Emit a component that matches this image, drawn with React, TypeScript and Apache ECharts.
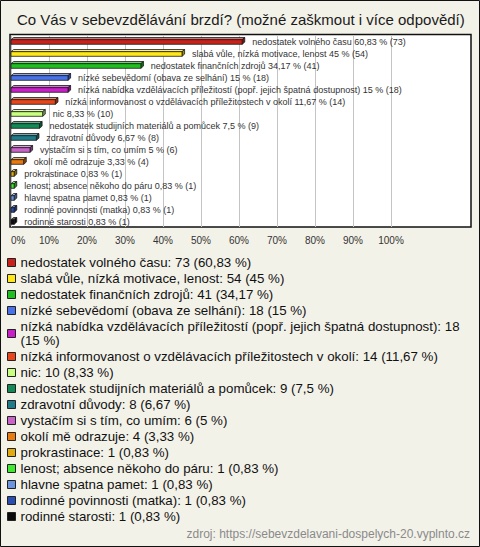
import React, { useEffect, useRef } from "react";
import * as echarts from "echarts";

const titleText = "Co Vás v sebevzdělávání brzdí? (možné zaškmout i více odpovědí)";
const sourceText = "zdroj: https://sebevzdelavani-dospelych-20.vyplnto.cz";

const categories = [
  "nedostatek volného času",
  "slabá vůle, nízká motivace, lenost",
  "nedostatek finančních zdrojů",
  "nízké sebevědomí (obava ze selhání)",
  "nízká nabídka vzdělávacích příležitostí (popř. jejich špatná dostupnost)",
  "nízká informovanost o vzdělávacích příležitostech v okolí",
  "nic",
  "nedostatek studijních materiálů a pomůcek",
  "zdravotní důvody",
  "vystačím si s tím, co umím",
  "okolí mě odrazuje",
  "prokrastinace",
  "lenost; absence někoho do páru",
  "hlavne spatna pamet",
  "rodinné povinnosti (matka)",
  "rodinné starosti",
];
const counts = [73, 54, 41, 18, 18, 14, 10, 9, 8, 6, 4, 1, 1, 1, 1, 1];
const percents = [60.83, 45, 34.17, 15, 15, 11.67, 8.33, 7.5, 6.67, 5, 3.33, 0.83, 0.83, 0.83, 0.83, 0.83];
const colors = [
  "#c8231b", "#ffe81a", "#1fbf1f", "#4a72e8", "#c81fc8", "#e8461a", "#c8ff80", "#118a55",
  "#1f7a8a", "#c864c8", "#e87a10", "#e0aa10", "#40e830", "#6d95dd", "#2a4db0", "#0a0a0a",
];
const axisMin = 0;
const axisMax = 100;
const axisInterval = 10;

const FONT = "Liberation Sans, Arial, sans-serif";
const LEGEND_FONT_SIZE = 13.3;
const fmtPct = (v: number) => String(v).replace(".", ",");

function shade(hex: string, f: number): string {
  const n = parseInt(hex.slice(1), 16);
  let r = (n >> 16) & 255, g = (n >> 8) & 255, b = n & 255;
  if (f >= 0) {
    r = Math.round(r + (255 - r) * f);
    g = Math.round(g + (255 - g) * f);
    b = Math.round(b + (255 - b) * f);
  } else {
    r = Math.round(r * (1 + f));
    g = Math.round(g * (1 + f));
    b = Math.round(b * (1 + f));
  }
  return "rgb(" + r + "," + g + "," + b + ")";
}

function wrapText(text: string, maxW: number, font: string): string {
  const ctx = document.createElement("canvas").getContext("2d");
  if (!ctx) return text;
  ctx.font = font;
  const words = text.split(" ");
  const lines: string[] = [];
  let cur = "";
  for (const w of words) {
    const next = cur ? cur + " " + w : w;
    if (cur && ctx.measureText(next).width > maxW) {
      lines.push(cur);
      cur = w;
    } else {
      cur = next;
    }
  }
  if (cur) lines.push(cur);
  return lines.join("\n");
}

export default function App() {
  const ref = useRef<HTMLDivElement>(null);
  useEffect(() => {
    if (!ref.current) return;
    const chart = echarts.init(ref.current, undefined, { renderer: "svg" });
    const series = categories.map((name, i) => ({
      type: "custom" as const,
      name,
      itemStyle: { color: colors[i] },
      encode: { x: 0, y: 1 },
      data: [[percents[i], i]],
      renderItem: (params: any, api: any) => {
        const v = api.value(0);
        const idx = api.value(1);
        const p0 = api.coord([0, idx]);
        const p1 = api.coord([v, idx]);
        const x0 = p0[0];
        const x1 = p1[0];
        const yc = p0[1];
        const yT = yc - 1.3;
        const yB = yc + 3.3;
        const dx = 2.6;
        const dy = 2.2;
        const c = colors[i];
        const stroke = { stroke: "#1a1a1a", lineWidth: 0.8 };
        return {
          type: "group",
          children: [
            {
              type: "polygon",
              shape: { points: [[x0, yT], [x0 + dx, yT - dy], [x1 + dx, yT - dy], [x1, yT]] },
              style: { fill: shade(c, 0.35), ...stroke },
            },
            {
              type: "polygon",
              shape: { points: [[x1, yT], [x1 + dx, yT - dy], [x1 + dx, yB - dy], [x1, yB]] },
              style: { fill: shade(c, -0.4), ...stroke },
            },
            {
              type: "rect",
              shape: { x: x0, y: yT, width: x1 - x0, height: yB - yT },
              style: { fill: c, ...stroke },
            },
            {
              type: "text",
              x: x1 + 10,
              y: yc + 0.5,
              style: {
                text: name + " " + fmtPct(percents[i]) + " % (" + counts[i] + ")",
                fill: "#333",
                fontSize: 9,
                fontFamily: FONT,
                verticalAlign: "middle",
                align: "left",
              },
            },
          ],
        };
      },
    }));

    chart.setOption({
      animation: false,
      backgroundColor: "#f3f2e9",
      graphic: [
        {
          type: "rect",
          z: -100,
          shape: { x: 0.5, y: 0.5, width: 479, height: 546 },
          style: { fill: "#f3f2e9", stroke: "#111", lineWidth: 1 },
          silent: true,
        },
        {
          type: "rect",
          z: -90,
          shape: { x: 10, y: 34.5, width: 461, height: 192.5 },
          style: { fill: "#ffffff", stroke: "#111", lineWidth: 1.5 },
          silent: true,
        },
        {
          type: "text",
          left: 17,
          top: 12,
          style: {
            text: titleText,
            fontSize: 15,
            fill: "#1a1a1a",
            fontFamily: FONT,
          },
        },
        {
          type: "text",
          right: 10,
          top: 528,
          style: {
            text: sourceText,
            fontSize: 12,
            fill: "#8a8a8a",
            fontFamily: FONT,
          },
        },
      ],
      grid: { left: 11, top: 35, width: 380, height: 192, containLabel: false },
      xAxis: {
        type: "value",
        min: axisMin,
        max: axisMax,
        interval: axisInterval,
        axisLine: { show: false },
        axisTick: { show: false },
        axisLabel: {
          formatter: "{value}%",
          margin: 8,
          fontSize: 10,
          color: "#333",
          fontFamily: FONT,
          alignMinLabel: "left",
        },
        splitLine: { show: true, lineStyle: { color: "#c4c4c4", width: 1 } },
      },
      yAxis: {
        type: "category",
        data: categories,
        inverse: true,
        show: false,
      },
      legend: {
        orient: "vertical",
        left: 7,
        top: 255.5,
        padding: 0,
        itemWidth: 8,
        itemHeight: 8,
        itemGap: 2,
        icon: "rect",
        selectedMode: false,
        data: categories,
        itemStyle: { borderColor: "#222", borderWidth: 1 },
        formatter: (name: string) => {
          const i = categories.indexOf(name);
          const t = name + ": " + counts[i] + " (" + fmtPct(percents[i]) + " %)";
          return wrapText(t, 450, LEGEND_FONT_SIZE + "px " + FONT);
        },
        textStyle: {
          fontSize: LEGEND_FONT_SIZE,
          lineHeight: 14,
          color: "#111",
          fontFamily: FONT,
        },
      },
      series,
    });
    return () => chart.dispose();
  }, []);
  return (
    <div
      ref={ref}
      style={{ position: "fixed", left: 0, top: 0, width: 480, height: 547 }}
    />
  );
}
